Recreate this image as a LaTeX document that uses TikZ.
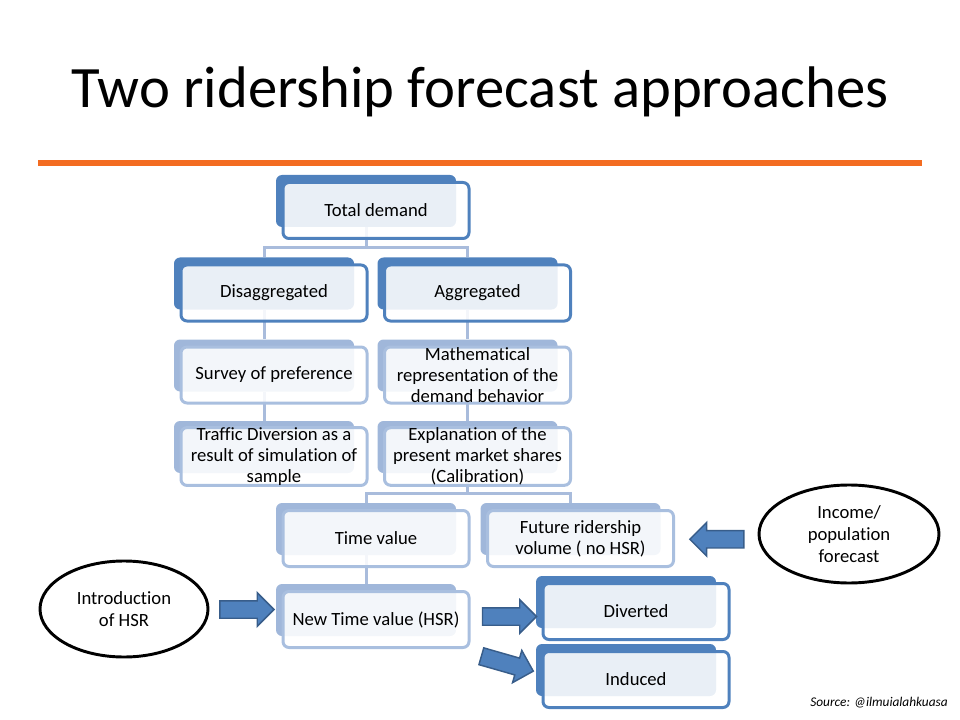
\documentclass[tikz,border=0pt]{standalone}
\usepackage{fontspec}
\setmainfont{Carlito}[Ligatures=NoCommon]
\usetikzlibrary{shapes.geometric,shapes.arrows,calc,backgrounds}
\definecolor{dkblue}{HTML}{4F81BD}
\definecolor{ltback}{HTML}{A0B7DA}
\definecolor{ltfront}{HTML}{A9BFDF}
\definecolor{connc}{HTML}{A9BCDC}
\definecolor{arrborder}{HTML}{385D8A}
\definecolor{orline}{HTML}{F36C21}
\tikzset{
  backrect/.style={rounded corners=4.5pt, minimum width=135pt, minimum height=39pt, inner sep=0pt, draw=none},
  frontrect/.style={rounded corners=4.5pt, minimum width=139.5pt, minimum height=42pt, line width=2.25pt,
    fill=white, fill opacity=0.88, text opacity=1, align=center, inner sep=0pt,
    font=\fontsize{14}{15.75}\selectfont},
  conn/.style={connc, line width=2.25pt},
  barrow/.style={single arrow, draw=arrborder, fill=dkblue, line width=1.1pt, inner xsep=0pt, inner ysep=6pt,
    single arrow head extend=6pt, single arrow tip angle=90, minimum height=40.5pt},
  ell/.style={ellipse, draw=black, line width=2.2pt, align=center, inner sep=0pt,
    font=\fontsize{14}{16.5}\selectfont},
}
\newcommand\twobox[6]{%
  \node[backrect, fill=#4] (#1b) at (#2-10,#3-9.5) {};
  \node[frontrect, draw=#5] (#1) at (#2,#3) {#6};
}
\begin{document}
\begin{tikzpicture}[x=0.75pt,y=-0.75pt]
\useasboundingbox (0,0) rectangle (960,720);
% title
\node[anchor=base, inner sep=0pt, font=\fontsize{44}{52}\selectfont] (title) at (480,108) {Two ridership forecast approaches};
\draw[orline, line width=4.5pt] (38,163) -- (922,163);
% boxes
\twobox{tot}{376}{210.5}{dkblue}{dkblue}{Total demand}
\twobox{dis}{274}{293}{dkblue}{dkblue}{Disaggregated}
\twobox{agg}{477.5}{293}{dkblue}{dkblue}{Aggregated}
\twobox{sur}{274}{375}{ltback}{ltfront}{Survey of preference}
\twobox{mat}{477.5}{375}{ltback}{ltfront}{Mathematical\\representation of the\\demand behavior}
\twobox{tra}{274}{456.5}{ltback}{ltfront}{Traffic Diversion as a\\result of simulation of\\sample}
\twobox{exp}{477.5}{456.5}{ltback}{ltfront}{Explanation of the\\present market shares\\(Calibration)}
\twobox{tim}{376}{538.5}{ltback}{ltfront}{Time value}
\twobox{fut}{580.5}{538.5}{ltback}{ltfront}{Future ridership\\volume ( no HSR)}
\twobox{new}{376}{619.5}{ltback}{ltfront}{New Time value (HSR)}
\twobox{div}{636}{611.5}{dkblue}{dkblue}{Diverted}
\twobox{ind}{636}{679.5}{dkblue}{dkblue}{Induced}
% connectors
\begin{pgfonlayer}{background}
\draw[conn] (totb.south) -- ++(0,20) -| (disb.north);
\draw[conn] (totb.south) -- ++(0,20) -| (aggb.north);
\draw[conn] (disb.south) -- (surb.north);
\draw[conn] (surb.south) -- (trab.north);
\draw[conn] (aggb.south) -- (matb.north);
\draw[conn] (matb.south) -- (expb.north);
\draw[conn] (expb.south) -- ++(0,20) -| (timb.north);
\draw[conn] (expb.south) -- ++(0,20) -| (futb.north);
\draw[conn] (timb.south) -- (newb.north);
\end{pgfonlayer}
% ellipses
\node[ell, minimum width=126pt, minimum height=72pt] (intro) at (124,609) {Introduction\\of HSR};
\node[ell, minimum width=135pt, minimum height=73.5pt] (inc) at (849,534) {Income/\\population\\forecast};
% block arrows
\node[barrow] (a1) at ($(intro.east)!0.5!(newb.west)$) {};
\node[barrow] (a2) at ($($(new.east)!0.5!(new.east -| divb.west)$)+(2,-3)$) {};
\node[barrow, rotate=-16] (a3) at ($(new.south east)!0.5!(indb.west)+(0,3)$) {};
\node[barrow, rotate=180] (a4) at ($($(fut.east)!0.5!(inc.west)$)+(5,3)$) {};
% source
\node[anchor=base east, inner sep=0pt, font=\fontsize{10}{11}\selectfont\itshape] (src) at (948,706) {Source: @ilmuialahkuasa};
\end{tikzpicture}
\end{document}
